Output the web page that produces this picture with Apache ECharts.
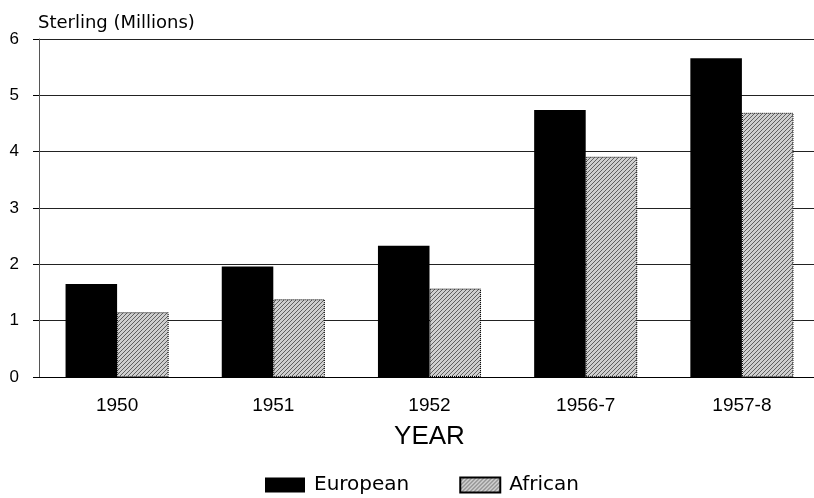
<!DOCTYPE html>
<html>
<head>
<meta charset="utf-8">
<script src="https://cdn.jsdelivr.net/npm/echarts@6/dist/echarts.min.js"></script>
<style>
  html, body { margin: 0; padding: 0; background: #fff; }
  #main { width: 814px; height: 498px; }
</style>
</head>
<body>
<div id="main"></div>
<script>
var years = ['1950', '1951', '1952', '1956-7', '1957-8'];
var european = [1.65, 1.96, 2.33, 4.74, 5.66];
var african = [1.15, 1.38, 1.57, 3.91, 4.69];
var yTicks = [0, 1, 2, 3, 4, 5, 6];

// hatched grey fill for the African bars
function makeHatch() {
    var c = document.createElement('canvas');
    c.width = 4;
    c.height = 4;
    var ctx = c.getContext('2d');
    ctx.fillStyle = '#cfcfcf';
    ctx.fillRect(0, 0, 4, 4);
    ctx.strokeStyle = '#444';
    ctx.lineWidth = 0.8;
    ctx.beginPath();
    ctx.moveTo(0, 4); ctx.lineTo(4, 0);
    ctx.moveTo(-2, 2); ctx.lineTo(2, -2);
    ctx.moveTo(2, 6); ctx.lineTo(6, 2);
    ctx.stroke();
    return c;
}

var font = 'Liberation Sans, Arial, sans-serif';
var wideFont = 'DejaVu Sans, sans-serif';
var myChart = echarts.init(document.getElementById('main'));

var option = {
    animation: false,
    title: {
        text: 'Sterling (Millions)',
        left: 33,
        top: 9,
        textStyle: { fontFamily: wideFont, fontSize: 18, fontWeight: 'normal', color: '#000' }
    },
    legend: {
        top: 470,
        left: 260,
        icon: 'rect',
        itemWidth: 40,
        itemHeight: 15,
        itemGap: 50,
        textStyle: { fontFamily: wideFont, fontSize: 20, color: '#000', padding: [0, 0, 0, 4] },
        data: ['European', 'African']
    },
    grid: {
        left: 39,
        width: 781,
        top: 39,
        bottom: 121,
        outerBoundsMode: 'none'
    },
    xAxis: {
        type: 'category',
        data: years,
        name: 'YEAR',
        nameLocation: 'middle',
        nameGap: 47,
        nameTextStyle: { fontFamily: font, fontSize: 26, color: '#000' },
        axisLine: { lineStyle: { color: '#000', width: 1 } },
        axisTick: { alignWithLabel: true, length: 9, lineStyle: { color: '#000' } },
        axisLabel: { fontFamily: font, fontSize: 19, color: '#000', margin: 19 }
    },
    yAxis: {
        type: 'value',
        min: yTicks[0],
        max: yTicks[yTicks.length - 1],
        interval: 1,
        axisLine: { show: true, lineStyle: { color: '#555', width: 1 } },
        axisTick: { show: true, length: 6, lineStyle: { color: '#000' } },
        axisLabel: { fontFamily: font, fontSize: 17, color: '#000', margin: 20 },
        splitLine: { lineStyle: { color: '#222', width: 1 } }
    },
    series: [
        {
            name: 'European',
            type: 'bar',
            data: european,
            barGap: '0%',
            barCategoryGap: '34%',
            itemStyle: { color: '#000' }
        },
        {
            name: 'African',
            type: 'bar',
            data: african,
            itemStyle: {
                color: { image: makeHatch(), repeat: 'repeat' },
                borderColor: '#000',
                borderWidth: 1,
                borderType: 'dotted'
            }
        }
    ]
};

myChart.setOption(option);
</script>
</body>
</html>
